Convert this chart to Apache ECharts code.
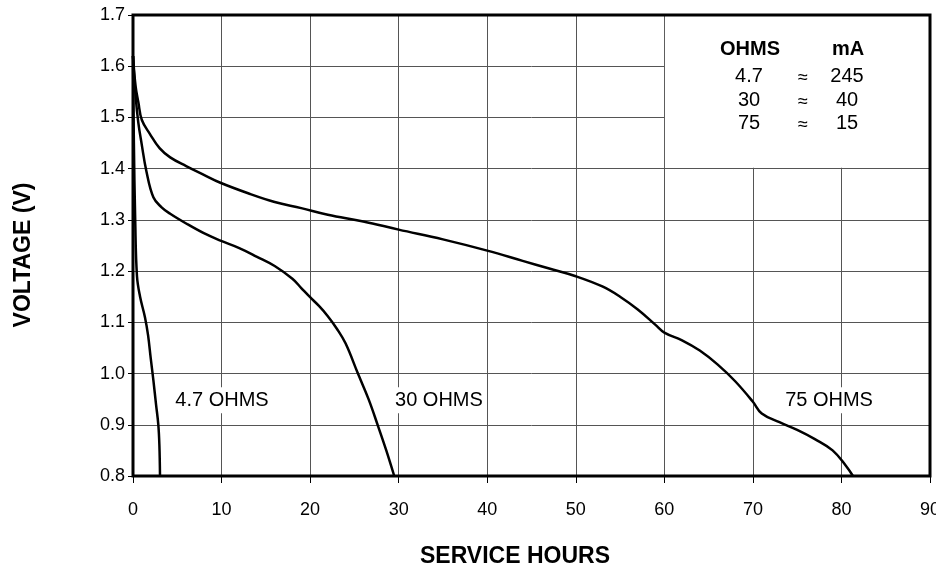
<!DOCTYPE html>
<html><head><meta charset="utf-8">
<script src="https://cdn.jsdelivr.net/npm/echarts@6/dist/echarts.min.js"></script>
<style>html,body{margin:0;padding:0;background:#fff}#c{width:936px;height:567px}</style>
</head><body><div id="c"></div>
<script>
var hours75 = [0, 0.3, 0.6, 1.0, 1.9, 3.0, 4.2, 6, 8, 9.8, 13, 16, 19, 22, 26, 30, 35, 40, 44, 47, 50, 53, 55, 57, 59, 60, 62, 64, 66, 68, 70, 71, 73, 75, 77, 79, 80.5, 81.3];
var volts75 = [1.62, 1.56, 1.53, 1.495, 1.468, 1.44, 1.422, 1.405, 1.388, 1.373, 1.352, 1.335, 1.323, 1.31, 1.297, 1.281, 1.262, 1.24, 1.22, 1.205, 1.19, 1.17, 1.15, 1.125, 1.095, 1.08, 1.065, 1.045, 1.018, 0.985, 0.945, 0.922, 0.905, 0.89, 0.872, 0.85, 0.82, 0.8];
var hours30 = [0, 0.3, 0.6, 0.98, 1.5, 2.3, 3.2, 4.2, 6.1, 8, 9.8, 12, 14, 16, 18, 19, 20, 21, 22, 23, 24, 25.4, 26.6, 27.7, 28.6, 29.5];
var volts30 = [1.62, 1.54, 1.49, 1.448, 1.396, 1.344, 1.325, 1.312, 1.292, 1.274, 1.26, 1.245, 1.228, 1.21, 1.185, 1.167, 1.149, 1.132, 1.112, 1.088, 1.059, 1.0, 0.95, 0.896, 0.85, 0.8];
var hours47 = [0, 0.1, 0.25, 0.45, 0.8, 1.35, 1.7, 2.0, 2.3, 2.6, 2.86, 2.98, 3.05];
var volts47 = [1.62, 1.45, 1.3, 1.19, 1.15, 1.11, 1.075, 1.03, 0.987, 0.94, 0.9, 0.86, 0.8];
var curveLabels = [[10.05, 0.948, '4.7 OHMS'], [34.55, 0.948, '30 OHMS'], [78.6, 0.948, '75 OHMS']];
var xTicks = [0, 10, 20, 30, 40, 50, 60, 70, 80, 90];
var yTicks = [0.8, 0.9, 1.0, 1.1, 1.2, 1.3, 1.4, 1.5, 1.6, 1.7];
var tableHead = ['OHMS', 'mA'];
var tableOhms = ['4.7', '30', '75'];
var tableMa = ['245', '40', '15'];
var xTitle = 'SERVICE HOURS';
var yTitle = 'VOLTAGE (V)';

function zip(a, b) { return a.map(function (v, i) { return [v, b[i]]; }); }
var FONT = '"Liberation Sans", Arial, sans-serif';
var chart = echarts.init(document.getElementById('c'));
var lineStyle = { color: '#000', width: 2.5 };
function curve(h, v) {
  return { type: 'line', data: zip(h, v), smooth: 0.4, symbol: 'none', lineStyle: lineStyle, z: 3, silent: true };
}
var graphics = [];
var rowY = [76, 100, 123.5];
graphics.push({ type: 'text', x: 750, y: 49, style: { text: tableHead[0], font: 'bold 20px ' + FONT, fill: '#000', align: 'center', verticalAlign: 'middle' }, z: 10 });
graphics.push({ type: 'text', x: 848, y: 49, style: { text: tableHead[1], font: 'bold 20px ' + FONT, fill: '#000', align: 'center', verticalAlign: 'middle' }, z: 10 });
tableOhms.forEach(function (t, i) {
  graphics.push({ type: 'text', x: 749, y: rowY[i], style: { text: t, font: '20px ' + FONT, fill: '#000', align: 'center', verticalAlign: 'middle' }, z: 10 });
  graphics.push({ type: 'text', x: 803, y: rowY[i] + 2, style: { text: '\u2248', font: '18px ' + FONT, fill: '#000', align: 'center', verticalAlign: 'middle' }, z: 10 });
  graphics.push({ type: 'text', x: 847, y: rowY[i], style: { text: tableMa[i], font: '20px ' + FONT, fill: '#000', align: 'center', verticalAlign: 'middle' }, z: 10 });
});
graphics.push({ type: 'text', x: 515, y: 557, style: { text: xTitle, font: 'bold 23px ' + FONT, fill: '#000', align: 'center', verticalAlign: 'middle' } });
graphics.push({ type: 'text', x: 24, y: 255, rotation: Math.PI / 2, style: { text: yTitle, font: 'bold 23px ' + FONT, fill: '#000', align: 'center', verticalAlign: 'middle' } });

var boxSeries = curve([], []);
boxSeries.markArea = {
  silent: true,
  itemStyle: { color: '#fff', borderWidth: 0 },
  data: [[{ coord: [60.07, 1.402] }, { coord: [90, 1.7] }]]
};

chart.setOption({
  animation: false,
  backgroundColor: '#fff',
  grid: { left: 133, right: 6, top: 15, bottom: 91, show: true, borderColor: '#000', borderWidth: 3, backgroundColor: 'transparent', z: 4, outerBoundsMode: 'none', containLabel: false },
  xAxis: {
    type: 'value', min: 0, max: 90, interval: 10,
    axisLine: { show: false },
    axisTick: { show: true, length: 7, lineStyle: { color: '#000' } },
    axisLabel: { fontFamily: FONT, fontSize: 18, color: '#000', margin: 25 },
    splitLine: { show: true, lineStyle: { color: '#555', width: 1 } }
  },
  yAxis: {
    type: 'value', min: 0.8, max: 1.7, interval: 0.1,
    axisLine: { show: false },
    axisTick: { show: true, length: 5, lineStyle: { color: '#000' } },
    axisLabel: { fontFamily: FONT, fontSize: 18, color: '#000', margin: 8, formatter: function (v) { return v.toFixed(1); } },
    splitLine: { show: true, lineStyle: { color: '#555', width: 1 } }
  },
  series: [
    boxSeries,
    curve(hours47, volts47),
    curve(hours30, volts30),
    curve(hours75, volts75),
    {
      type: 'scatter', symbolSize: 0, z: 5, silent: true,
      itemStyle: { opacity: 1 },
      data: curveLabels.map(function (d) { return { value: [d[0], d[1]], name: d[2] }; }),
      label: { show: true, position: 'inside', formatter: function (p) { return p.name; }, fontFamily: FONT, fontSize: 20, color: '#000', opacity: 1, textBorderWidth: 0, backgroundColor: '#fff', padding: [3, 2] }
    }
  ],
  graphic: graphics
});
</script></body></html>
